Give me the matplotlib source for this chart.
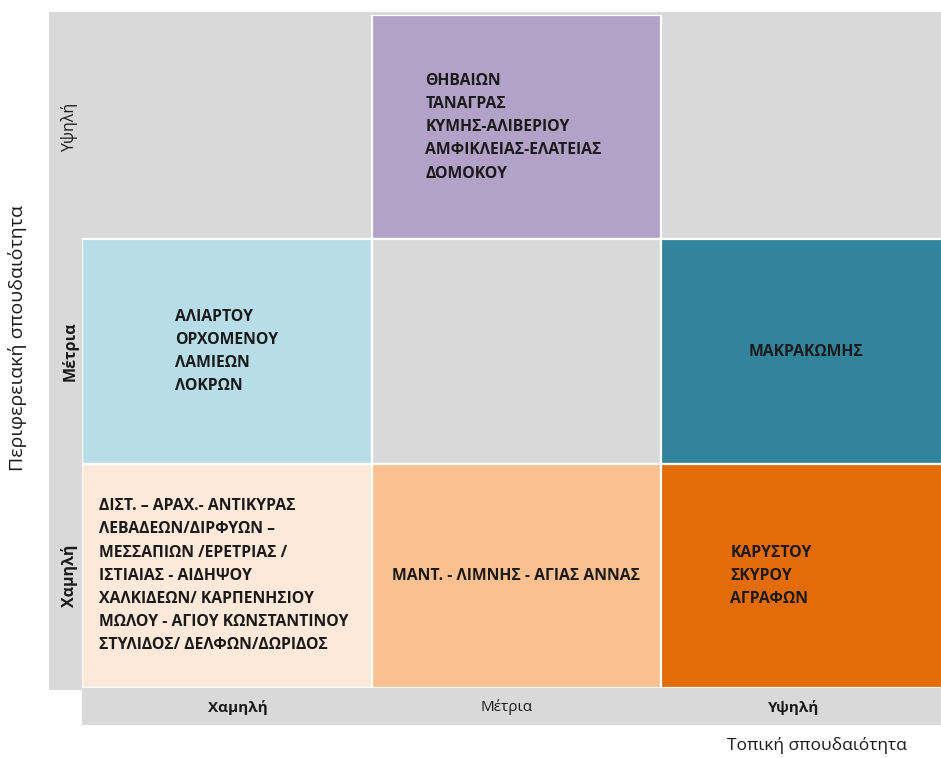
import matplotlib.pyplot as plt
from matplotlib.patches import Rectangle

# levels of importance (rows: regional, columns: local)
levels = ['Χαμηλή', 'Μέτρια', 'Υψηλή']
row_label_bold = [True, True, False]
col_label_bold = [True, False, True]

# cells: (row, col) -> municipalities, row 0 = Χαμηλή
cell_rows = [2, 1, 1, 1, 0, 0, 0]
cell_cols = [1, 0, 1, 2, 0, 1, 2]
cell_names = [
    ['ΘΗΒΑΙΩΝ', 'ΤΑΝΑΓΡΑΣ', 'ΚΥΜΗΣ-ΑΛΙΒΕΡΙΟΥ', 'ΑΜΦΙΚΛΕΙΑΣ-ΕΛΑΤΕΙΑΣ', 'ΔΟΜΟΚΟΥ'],
    ['ΑΛΙΑΡΤΟΥ', 'ΟΡΧΟΜΕΝΟΥ', 'ΛΑΜΙΕΩΝ', 'ΛΟΚΡΩΝ'],
    [],
    ['ΜΑΚΡΑΚΩΜΗΣ'],
    ['ΔΙΣΤ. – ΑΡΑΧ.- ΑΝΤΙΚΥΡΑΣ', 'ΛΕΒΑΔΕΩΝ/ΔΙΡΦΥΩΝ –', 'ΜΕΣΣΑΠΙΩΝ /ΕΡΕΤΡΙΑΣ /',
     'ΙΣΤΙΑΙΑΣ - ΑΙΔΗΨΟΥ', 'ΧΑΛΚΙΔΕΩΝ/ ΚΑΡΠΕΝΗΣΙΟΥ', 'ΜΩΛΟΥ - ΑΓΙΟΥ ΚΩΝΣΤΑΝΤΙΝΟΥ',
     'ΣΤΥΛΙΔΟΣ/ ΔΕΛΦΩΝ/ΔΩΡΙΔΟΣ'],
    ['ΜΑΝΤ. - ΛΙΜΝΗΣ - ΑΓΙΑΣ ΑΝΝΑΣ'],
    ['ΚΑΡΥΣΤΟΥ', 'ΣΚΥΡΟΥ', 'ΑΓΡΑΦΩΝ'],
]
cell_colors = ['#b3a2c7', '#b7dde8', '#d9d9d9', '#31849b', '#fde9d9', '#fac090', '#e36c09']
text_xfrac = [0.49, 0.5, 0.5, 0.5, 0.49, 0.5, 0.38]

GRAY = '#d9d9d9'
TXT = '#1a1a1a'
FONT = 'Open Sans'

fig = plt.figure(figsize=(9.41, 7.58), dpi=100)

# background frame in pixel coordinates
bg = fig.add_axes([0, 0, 1, 1])
bg.set_xlim(0, 941)
bg.set_ylim(758, 0)
bg.axis('off')
bg.add_patch(Rectangle((49, 12), 892, 678, color=GRAY, lw=0))
bg.add_patch(Rectangle((82, 689), 859, 36, color=GRAY, lw=0))

# matrix axes
W, H = 941, 758
left, right, top, bottom = 82, 941, 15, 688
ax = fig.add_axes([left / W, 1 - bottom / H, (right - left) / W, (bottom - top) / H])
ax.set_xlim(0, (right - left) / 289.5)
ax.set_ylim(0, 3)
ax.axis('off')

for r, c, names, col, fx in zip(cell_rows, cell_cols, cell_names, cell_colors, text_xfrac):
    ax.add_patch(Rectangle((c, r), 1, 1, facecolor=col, edgecolor='white', lw=1.6))
    if names:
        ax.text(c + fx, r + 0.5, '\n'.join(names), ha='center', va='center',
                multialignment='left', fontsize=11.3, fontweight='bold',
                color=TXT, family=FONT, linespacing=1.6)

# row labels (left strip) and column labels (bottom strip)
col_offsets = [0.04, -0.035, -0.04]
for i, lab in enumerate(levels):
    ax.text(-0.042, i + 0.5, lab, rotation=90, ha='center', va='center',
            fontsize=11.5, fontweight='bold' if row_label_bold[i] else 'normal',
            color=TXT, family=FONT)
    ax.text(i + 0.5 + col_offsets[i], -0.085, lab, ha='center', va='center',
            fontsize=11, fontweight='bold' if col_label_bold[i] else 'normal',
            color=TXT, family=FONT)

# axis titles
bg.text(18, 338, 'Περιφερειακή σπουδαιότητα', rotation=90, ha='center', va='center',
        fontsize=14, color=TXT, family=FONT)
bg.text(817, 746, 'Τοπική σπουδαιότητα', ha='center', va='center',
        fontsize=12.5, color=TXT, family=FONT)

fig.savefig('out.png', dpi=100)
